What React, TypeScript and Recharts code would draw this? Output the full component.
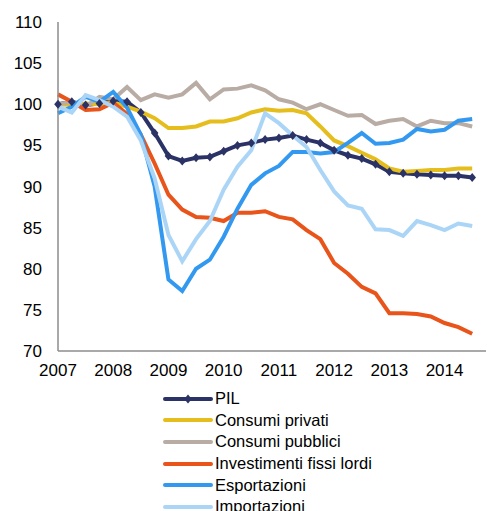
import { LineChart, Line, XAxis, YAxis, Legend } from "recharts";

const years = ["2007", "2008", "2009", "2010", "2011", "2012", "2013", "2014"];
const yTicks = [70, 75, 80, 85, 90, 95, 100, 105, 110];

// quarterly index, 2007Q1 = 0 ... 2014Q3 = 30
const pil = [100, 100.3, 99.9, 100.1, 100.4, 100.3, 99.0, 96.5, 93.7, 93.1, 93.5, 93.6, 94.3, 95.0, 95.3, 95.7, 95.9, 96.2, 95.7, 95.3, 94.4, 93.8, 93.4, 92.7, 91.8, 91.6, 91.5, 91.4, 91.3, 91.3, 91.1];
const consumiPrivati = [100, 99.9, 100.1, 100.0, 100.2, 99.7, 99.1, 98.3, 97.1, 97.1, 97.3, 97.9, 97.9, 98.3, 99.0, 99.4, 99.2, 99.3, 98.9, 97.3, 95.6, 94.9, 94.1, 93.3, 92.2, 91.8, 91.9, 92.0, 92.0, 92.2, 92.2];
const consumiPubblici = [100, 100.3, 99.7, 100.9, 100.6, 102.1, 100.5, 101.2, 100.8, 101.2, 102.6, 100.6, 101.8, 101.9, 102.3, 101.7, 100.6, 100.2, 99.4, 100.0, 99.3, 98.6, 98.7, 97.6, 98.0, 98.2, 97.3, 98.0, 97.7, 97.7, 97.3];
const investimenti = [101.2, 100.3, 99.3, 99.4, 100.2, 98.8, 96.3, 92.8, 89.0, 87.2, 86.3, 86.2, 85.8, 86.8, 86.8, 87.0, 86.3, 86.0, 84.7, 83.6, 80.7, 79.4, 77.8, 77.0, 74.6, 74.6, 74.5, 74.2, 73.4, 72.9, 72.1];
const esportazioni = [98.9, 99.7, 100.9, 100.3, 101.5, 99.6, 96.3, 90.0, 78.7, 77.3, 80.0, 81.1, 83.9, 87.3, 90.2, 91.6, 92.5, 94.2, 94.2, 94.0, 94.2, 95.3, 96.5, 95.2, 95.3, 95.7, 97.0, 96.7, 96.9, 98.0, 98.2];
const importazioni = [99.7, 99.0, 101.1, 100.5, 99.7, 98.5, 95.6, 91.0, 84.1, 80.9, 83.6, 85.8, 89.6, 92.4, 94.4, 98.9, 97.7, 96.2, 94.8, 92.0, 89.4, 87.7, 87.3, 84.8, 84.7, 84.0, 85.8, 85.3, 84.7, 85.5, 85.2];

const series = [
  { key: "pil", name: "PIL", color: "#2B3266", values: pil },
  { key: "cpriv", name: "Consumi privati", color: "#E5BE1D", values: consumiPrivati },
  { key: "cpub", name: "Consumi pubblici", color: "#B9ACA4", values: consumiPubblici },
  { key: "inv", name: "Investimenti fissi lordi", color: "#E8541A", values: investimenti },
  { key: "exp", name: "Esportazioni", color: "#3399F0", values: esportazioni },
  { key: "imp", name: "Importazioni", color: "#ABD5F7", values: importazioni },
];

const data = pil.map((_, i) => {
  const row: Record<string, number> = { q: i };
  series.forEach((s) => (row[s.key] = s.values[i]));
  return row;
});

const font = "'Liberation Sans', Arial, sans-serif";

const Diamond = (props: any) => {
  const { cx, cy, index } = props;
  if (cx == null || cy == null) return null;
  return (
    <path
      key={`d-${index}`}
      d={`M${cx},${cy - 4.5} L${cx + 3.8},${cy} L${cx},${cy + 4.5} L${cx - 3.8},${cy} Z`}
      fill="#2B3266"
    />
  );
};

const LegendBox = () => (
  <div style={{ fontFamily: font, fontSize: 16.5, color: "#000" }}>
    {series.map((s) => (
      <div key={s.key} style={{ display: "flex", alignItems: "center", height: 21.6 }}>
        <svg width={50} height={12} style={{ marginRight: 2 }}>
          <line x1={2} y1={6} x2={48} y2={6} stroke={s.color} strokeWidth={4} strokeLinecap="round" />
          {s.key === "pil" && <path d="M25,1.5 L28.8,6 L25,10.5 L21.2,6 Z" fill={s.color} />}
        </svg>
        <span>{s.name}</span>
      </div>
    ))}
  </div>
);

export default function App() {
  return (
    <div style={{ position: "absolute", left: 0, top: 0, width: 487, height: 511, background: "#fff", overflow: "hidden" }}>
      <LineChart width={487} height={511} data={data} margin={{ top: 22, right: 1, left: 0, bottom: 130 }}>
        <XAxis
          dataKey="q"
          type="number"
          domain={[0, 31]}
          ticks={[0, 4, 8, 12, 16, 20, 24, 28]}
          tickFormatter={(v: number) => years[v / 4]}
          height={30}
          tickLine={false}
          tickSize={6}
          tickMargin={7}
          axisLine={{ stroke: "#8c8c8c", strokeWidth: 1.5 }}
          tick={{ fill: "#000", fontSize: 17, fontFamily: font }}
          interval={0}
        />
        <YAxis
          type="number"
          domain={[70, 110]}
          ticks={yTicks}
          width={58}
          tickLine={false}
          tickSize={8}
          tickMargin={8}
          axisLine={{ stroke: "#8c8c8c", strokeWidth: 1.5 }}
          tick={{ fill: "#000", fontSize: 17, fontFamily: font }}
          interval={0}
        />
        {series.map((s) => (
          <Line
            key={s.key}
            dataKey={s.key}
            name={s.name}
            type="linear"
            stroke={s.color}
            strokeWidth={4}
            dot={s.key === "pil" ? Diamond : false}
            activeDot={false}
            isAnimationActive={false}
          />
        ))}
        <Legend
          layout="vertical"
          align="center"
          verticalAlign="middle"
          content={() => <LegendBox />}
          wrapperStyle={{ left: 163, top: 388, width: 300 }}
        />
      </LineChart>
    </div>
  );
}
